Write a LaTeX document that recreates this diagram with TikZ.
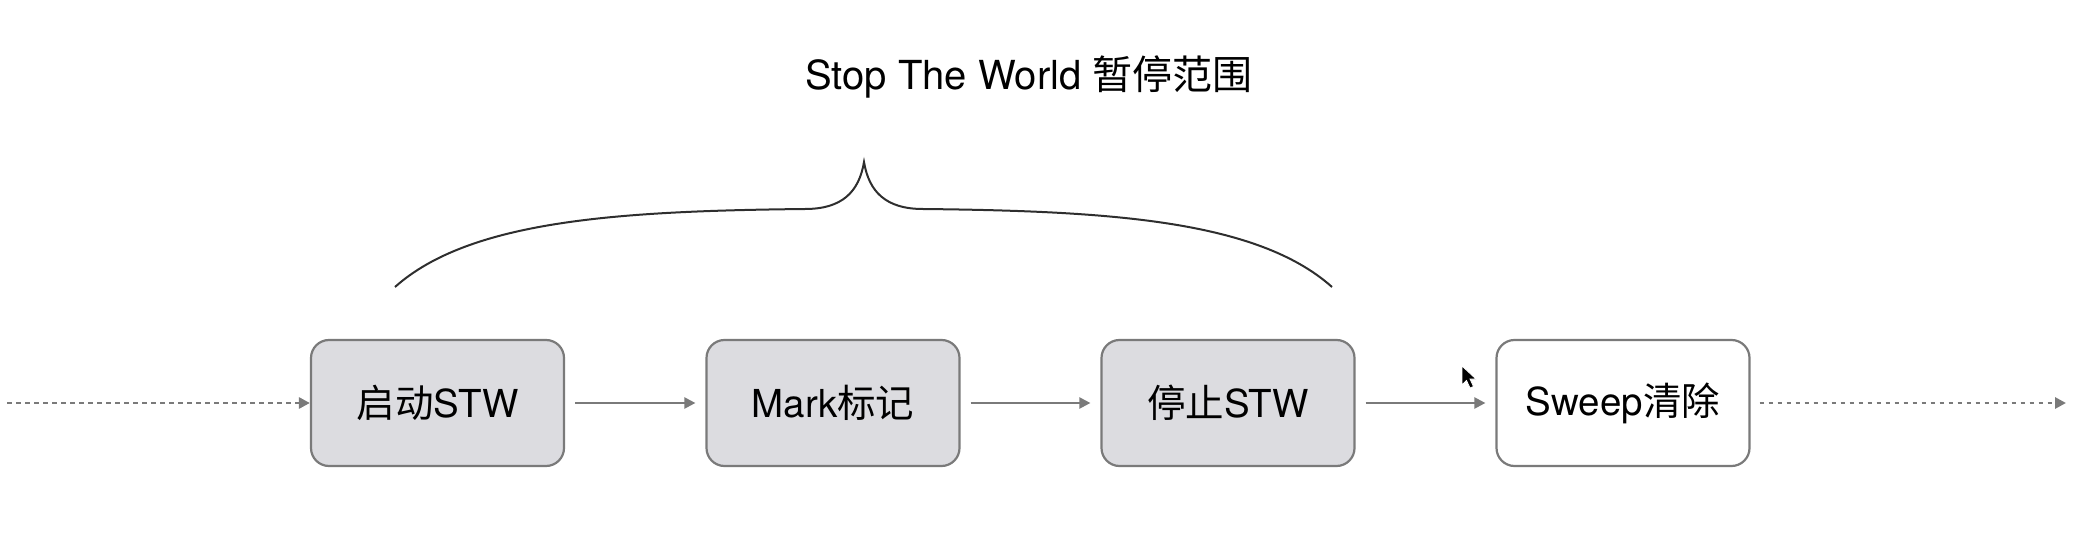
\documentclass[tikz,border=0pt]{standalone}
\usepackage{fontspec}
\setmainfont{TeX Gyre Heros}
\newfontfamily\cjk{Noto Sans CJK SC}
\usetikzlibrary{arrows.meta}
\definecolor{boxgray}{HTML}{DCDCE0}
\definecolor{linegray}{HTML}{7A7A7A}
\definecolor{bracecol}{HTML}{2E2E2E}
\tikzset{
  stepbox/.style={draw=linegray, line width=2.2pt, rounded corners=18pt,
    minimum width=253pt, minimum height=126pt, inner sep=0pt,
    font=\fontsize{38.5}{42}\selectfont, text=black},
  grayfill/.style={fill=boxgray},
  whitefill/.style={fill=white},
  flow/.style={draw=linegray, line width=2.2pt,
    -{Triangle[length=11pt,width=11pt]}},
  dotflow/.style={flow, line width=2.8pt, dash pattern=on 4.5pt off 4.5pt},
  bracestyle/.style={draw=bracecol, line width=2pt}
}
\begin{document}
\begin{tikzpicture}[x=1pt,y=-1pt]
\useasboundingbox (0,0) rectangle (2092,548);
\node[font=\fontsize{40}{44}\selectfont] (title) at (1029,77) {Stop The World {\cjk 暂停范围}};
\node[stepbox,grayfill] (b1) at (437.5,403) {{\cjk 启动}STW};
\node[stepbox,grayfill] (b2) at (833,403) {Mark{\cjk 标记}};
\node[stepbox,grayfill] (b3) at (1228,403) {{\cjk 停止}STW};
\node[stepbox,whitefill] (b4) at (1623,403) {Sweep{\cjk 清除}};
\coordinate (start) at (7,403);
\coordinate (finish) at (2066,403);
\draw[dotflow] (start) -- (b1.west);
\draw[flow, shorten <=10pt, shorten >=10pt] (b1.east) -- (b2.west);
\draw[flow, shorten <=10pt, shorten >=10pt] (b2.east) -- (b3.west);
\draw[flow, shorten <=10pt, shorten >=10pt] (b3.east) -- (b4.west);
\draw[dotflow, shorten <=9pt] (b4.east) -- (finish);
% brace
\coordinate (bl) at (395,287);
\coordinate (br) at (1332,287);
\coordinate (pk) at (864,162);
\draw[bracestyle] (bl) .. controls (470,220) and (620,211) .. (805,209)
  .. controls (842,209) and (859,192) .. (pk)
  .. controls (869,192) and (886,209) .. (923,209)
  .. controls (1108,211) and (1257,220) .. (br);
% mouse pointer
\fill[black, draw=white, line width=0.8pt] (1462,366) -- (1462,385) -- (1466.5,380.5) -- (1470,388) -- (1473.5,386.5) -- (1470,379) -- (1476,379) -- cycle;
\end{tikzpicture}
\end{document}
